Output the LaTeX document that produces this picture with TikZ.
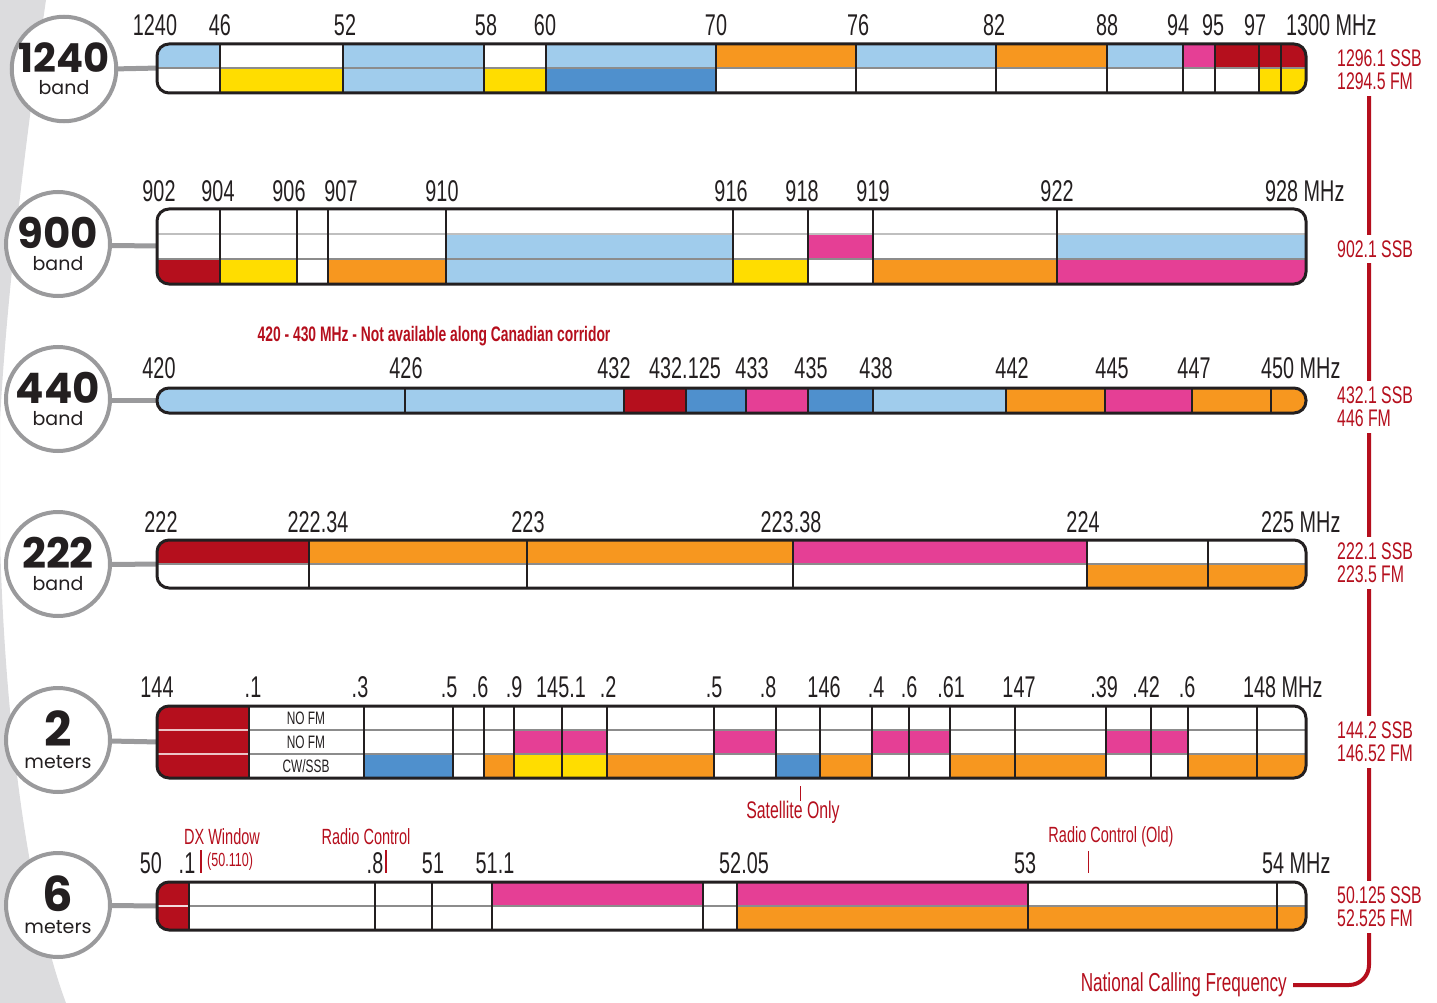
\documentclass[tikz,border=0pt]{standalone}
\usepackage{fontspec}
\setmainfont{Liberation Sans}
\newfontfamily\condfont[FakeStretch=0.66]{Liberation Sans}
\newfontfamily\geofont{Poppins}
\usetikzlibrary{positioning}

\definecolor{lblue}{HTML}{A0CCEC}
\definecolor{mblue}{HTML}{4F90CD}
\definecolor{yel}{HTML}{FFDD00}
\definecolor{ora}{HTML}{F7971F}
\definecolor{pnk}{HTML}{E53F95}
\definecolor{rd}{HTML}{B50F1D}
\definecolor{ring}{HTML}{9A9A9C}
\definecolor{bg}{HTML}{DCDCDE}
\definecolor{ink}{HTML}{231F20}

\newcommand{\bandnum}[2][42]{{\fontsize{#1}{22}\selectfont\bfseries #2}}

\tikzset{
  freq/.style={anchor=base, inner sep=0pt, text=ink, font=\condfont\fontsize{30}{30}\selectfont},
  note/.style={inner sep=0pt, text=rd, font=\condfont\fontsize{22}{22}\selectfont},
  call/.style={anchor=west, fill=white, inner xsep=2pt, inner ysep=6pt, align=left, text=rd, font=\condfont\fontsize{24}{23}\selectfont},
  bandring/.style={circle, draw=ring, line width=4, fill=white, minimum size=104, inner sep=0pt,
    align=center, text=ink, font=\geofont\fontsize{19}{22}\selectfont},
  link/.style={ring, line width=5},
  divider/.style={ink, line width=2.5},
  rowline/.style={black!45, line width=1.5},
  outline/.style={ink, line width=3, rounded corners=12},
  cell/.style={font=\condfont\fontsize{18}{18}\selectfont, inner sep=0pt, text=ink},
}

\begin{document}
\begin{tikzpicture}[x=1pt, y=-1pt]
        \useasboundingbox (0,0) rectangle (1437,1003);
        % grey page edge
        \fill[bg] (0,0) -- (46,0) .. controls (8,260) and (-8,460) .. (0,540)
            .. controls (6,760) and (35,920) .. (66,1003) -- (0,1003) -- cycle;

        % rings and links
        \coordinate (bar1240) at (160,68);
        \coordinate (bar900) at (160,246);
        \coordinate (bar440) at (160,400);
        \coordinate (bar222) at (160,564);
        \coordinate (bar2m) at (160,742);
        \coordinate (bar6m) at (160,906);
        \draw[link] (64,70) -- (bar1240);
        \foreach \b/\y in {900/245,440/400,222/565,2m/740,6m/905}
            \draw[link] (58,\y) -- (bar\b);
        \node[bandring] (r1240) at (64,69) {\bandnum[40]{1240}\\band};
        \node[bandring] (r900) at (58,244) {\bandnum{900}\\band};
        \node[bandring] (r440) at (58,399) {\bandnum{440}\\band};
        \node[bandring] (r222) at (58,564) {\bandnum{222}\\band};
        \node[bandring] (r2m) at (58,740) {\bandnum[48]{2}\\meters};
        \node[bandring] (r6m) at (58,905) {\bandnum[48]{6}\\meters};

        % 1240 band
        \begin{scope}
            \clip[rounded corners=12] (157,44) rectangle (1306,93);
            \foreach \a/\b/\c/\d in {157/220/lblue/white, 220/343/white/yel, 343/484/lblue/lblue,
                484/546/white/yel, 546/716/lblue/mblue, 716/856/ora/white, 856/996/lblue/white,
                996/1107/ora/white, 1107/1183/lblue/white, 1183/1215/pnk/white, 1215/1259/rd/white,
                1259/1281/rd/yel, 1281/1306/rd/yel}
            {
                \fill[\c] (\a,44) rectangle (\b,68);
                \fill[\d] (\a,68) rectangle (\b,93);
            }
        \end{scope}
        \draw[rowline] (157,68) -- (1306,68);
        \foreach \x in {220,343,484,546,716,856,996,1107,1183,1215,1259,1281}
            \draw[divider] (\x,44) -- (\x,93);
        \draw[outline] (157,44) rectangle (1306,93);
        \foreach \x/\t [count=\i] in {155/1240, 220/46, 345/52, 486/58, 545/60, 716/70, 858/76,
            994/82, 1107/88, 1178/94, 1213/95, 1255/97}
            \node[freq] (f1240-\i) at (\x,36) {\t};
        \node[freq, anchor=base west] (f1240-end) at (1286,36) {1300 MHz};

        % 900 band
        \begin{scope}
            \clip[rounded corners=12] (157,209) rectangle (1306,284);
            \foreach \a/\b/\c/\d/\e in {157/220/white/white/rd, 220/297/white/white/yel,
                297/328/white/white/white, 328/446/white/white/ora, 446/733/white/lblue/lblue,
                733/808/white/white/yel, 808/873/white/pnk/white, 873/1057/white/white/ora,
                1057/1306/white/lblue/pnk}
            {
                \fill[\c] (\a,209) rectangle (\b,234);
                \fill[\d] (\a,234) rectangle (\b,259);
                \fill[\e] (\a,259) rectangle (\b,284);
            }
        \end{scope}
        \draw[rowline, black!25] (157,234) -- (1306,234);
        \draw[rowline] (157,259) -- (1306,259);
        \foreach \x in {220,297,328,446,733,808,873,1057}
            \draw[divider] (\x,209) -- (\x,284);
        \draw[outline] (157,209) rectangle (1306,284);
        \foreach \x/\t [count=\i] in {159/902, 218/904, 289/906, 341/907, 442/910, 731/916,
            802/918, 873/919, 1057/922}
            \node[freq] (f900-\i) at (\x,201) {\t};
        \node[freq, anchor=base west] (f900-end) at (1265,201) {928 MHz};

        % 440 band
        \begin{scope}
            \clip[rounded corners=12] (157,388) rectangle (1306,413);
            \foreach \a/\b/\c in {157/405/lblue, 405/624/lblue, 624/686/rd, 686/746/mblue,
                746/808/pnk, 808/873/mblue, 873/1006/lblue, 1006/1105/ora, 1105/1192/pnk,
                1192/1271/ora, 1271/1306/ora}
                \fill[\c] (\a,388) rectangle (\b,413);
        \end{scope}
        \foreach \x in {405,624,686,746,808,873,1006,1105,1192,1271}
            \draw[divider] (\x,388) -- (\x,413);
        \draw[outline] (157,388) rectangle (1306,413);
        \foreach \x/\t [count=\i] in {159/420, 406/426, 614/432, 685/432.125, 752/433, 811/435,
            876/438, 1012/442, 1112/445, 1194/447}
            \node[freq] (f440-\i) at (\x,378) {\t};
        \node[freq, anchor=base west] (f440-end) at (1261,378) {450 MHz};
        \node[note, font=\condfont\bfseries\fontsize{21}{21}\selectfont] (canada) at (434,336)
            {420 - 430 MHz - Not available along Canadian corridor};

        % 222 band
        \begin{scope}
            \clip[rounded corners=12] (157,540) rectangle (1306,588);
            \foreach \a/\b/\c/\d in {157/309/rd/white, 309/527/ora/white, 527/793/ora/white,
                793/1087/pnk/white, 1087/1208/white/ora, 1208/1306/white/ora}
            {
                \fill[\c] (\a,540) rectangle (\b,564);
                \fill[\d] (\a,564) rectangle (\b,588);
            }
        \end{scope}
        \draw[rowline] (157,564) -- (1306,564);
        \foreach \x in {309,527,793,1087,1208}
            \draw[divider] (\x,540) -- (\x,588);
        \draw[outline] (157,540) rectangle (1306,588);
        \foreach \x/\t [count=\i] in {161/222, 318/222.34, 528/223, 791/223.38, 1083/224}
            \node[freq] (f222-\i) at (\x,532) {\t};
        \node[freq, anchor=base west] (f222-end) at (1261,532) {225 MHz};

        % 2 meters
        \begin{scope}
            \clip[rounded corners=12] (157,706) rectangle (1306,778);
            \foreach \a/\b/\c/\d/\e in {157/249/rd/rd/rd, 249/364/white/white/white,
                364/453/white/white/mblue, 453/484/white/white/white, 484/514/white/white/ora,
                514/562/white/pnk/yel, 562/607/white/pnk/yel, 607/714/white/white/ora,
                714/776/white/pnk/white, 776/820/white/white/mblue, 820/872/white/white/ora,
                872/909/white/pnk/white, 909/950/white/pnk/white, 950/1015/white/white/ora,
                1015/1106/white/white/ora, 1106/1151/white/pnk/white, 1151/1188/white/pnk/white,
                1188/1257/white/white/ora, 1257/1306/white/white/ora}
            {
                \fill[\c] (\a,706) rectangle (\b,730);
                \fill[\d] (\a,730) rectangle (\b,754);
                \fill[\e] (\a,754) rectangle (\b,778);
            }
        \end{scope}
        \draw[rowline] (249,730) -- (1306,730);
        \draw[rowline] (249,754) -- (1306,754);
        \draw[rd!25!white, line width=1.5] (157,730) -- (249,730);
        \draw[rd!25!white, line width=1.5] (157,754) -- (249,754);
        \foreach \x in {249,364,453,484,514,562,607,714,776,820,872,909,950,1015,1106,1151,1188,1257}
            \draw[divider] (\x,706) -- (\x,778);
        \draw[outline] (157,706) rectangle (1306,778);
        \node[cell] (nofm1) at (306,718) {NO FM};
        \node[cell] (nofm2) at (306,742) {NO FM};
        \node[cell] (cwssb) at (306,766) {CW/SSB};
        \foreach \x/\t [count=\i] in {157/144, 253/.1, 360/.3, 449/.5, 480/.6, 514/.9, 561/145.1,
            608/.2, 714/.5, 768/.8, 824/146, 876/.4, 909/.6, 951/.61, 1019/147, 1104/.39,
            1146/.42, 1187/.6}
            \node[freq] (f2m-\i) at (\x,697) {\t};
        \node[freq, anchor=base west] (f2m-end) at (1243,697) {148 MHz};
        \node[note, font=\condfont\fontsize{24}{24}\selectfont] (sat) at (793,812) {Satellite Only};
        \coordinate (satTick) at (800,786);
        \draw[rd, line width=1] (satTick) -- (satTick |- sat.north);

        % 6 meters
        \begin{scope}
            \clip[rounded corners=12] (157,882) rectangle (1306,930);
            \foreach \a/\b/\c/\d in {157/189/rd/rd, 189/375/white/white, 375/432/white/white,
                432/492/white/white, 492/703/pnk/white, 703/737/white/white, 737/1028/pnk/ora,
                1028/1277/white/ora, 1277/1306/white/ora}
            {
                \fill[\c] (\a,882) rectangle (\b,906);
                \fill[\d] (\a,906) rectangle (\b,930);
            }
        \end{scope}
        \draw[rowline] (189,906) -- (1306,906);
        \draw[white!85!rd, line width=1.5] (157,906) -- (189,906);
        \foreach \x in {189,375,432,492,703,737,1028,1277}
            \draw[divider] (\x,882) -- (\x,930);
        \draw[outline] (157,882) rectangle (1306,930);
        \foreach \x/\t [count=\i] in {151/50, 187/.1, 375/.8, 433/51, 495/51.1, 744/52.05, 1025/53}
            \node[freq] (f6m-\i) at (\x,873) {\t};
        \node[freq, anchor=base west] (f6m-end) at (1262,873) {54 MHz};
        \node[note] (dx) at (222,837) {DX Window};
        \node[note, font=\condfont\fontsize{19}{19}\selectfont, anchor=base west] (dxf) at (207,866) {(50.110)};
        \node[note] (rc) at (366,837) {Radio Control};
        \node[note] (rcold) at (1111,837) {Radio Control (Old)};
        \coordinate (dxTick) at (201,850);
        \coordinate (rcTick) at (386,850);
        \coordinate (rcoldTick) at (1088,851);
        \draw[rd, line width=1.2] (dxTick) -- ++(0,23);
        \draw[rd, line width=1.2] (rcTick) -- ++(0,23);
        \draw[rd, line width=1] (rcoldTick) -- ++(0,22);

        % national calling frequencies
        \coordinate (ncfTop) at (1369,96);
        \node[note, font=\condfont\fontsize{26}{26}\selectfont, anchor=east, inner xsep=6pt] (ncf) at (1293,985)
            {National Calling Frequency};
        \draw[rd, line width=4, rounded corners=20] (ncfTop) |- (ncf.east);
        \node[call] (c1240) at (1335,70) {1296.1 SSB\\1294.5 FM};
        \node[call] (c900) at (1335,249) {902.1 SSB};
        \node[call] (c440) at (1335,407) {432.1 SSB\\446 FM};
        \node[call] (c222) at (1335,563) {222.1 SSB\\223.5 FM};
        \node[call] (c2m) at (1335,742) {144.2 SSB\\146.52 FM};
        \node[call] (c6m) at (1335,907) {50.125 SSB\\52.525 FM};
    \end{tikzpicture}
\end{document}
